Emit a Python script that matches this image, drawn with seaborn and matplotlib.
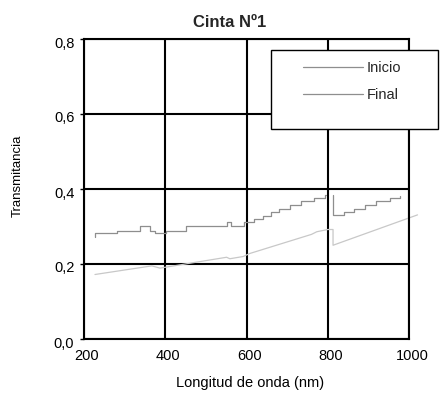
import numpy as np
import pandas as pd
import matplotlib
matplotlib.use("Agg")
import matplotlib.pyplot as plt
import matplotlib.transforms as mtransforms
from matplotlib.patches import Rectangle
import seaborn as sns

# ---- data ----
inicio_x_a = [227, 227, 282, 338, 362, 375, 403, 451, 553, 561, 595, 619, 640, 660, 681, 706, 735, 767, 794, 796]
inicio_y_a = [0.273, 0.282, 0.289, 0.301, 0.289, 0.282, 0.289, 0.301, 0.311, 0.301, 0.311, 0.320, 0.329, 0.338, 0.347, 0.357, 0.368, 0.376, 0.384, 0.384]
inicio_x_b = [813, 813, 840, 865, 892, 919, 952, 977, 978]
inicio_y_b = [0.384, 0.331, 0.339, 0.348, 0.357, 0.367, 0.375, 0.382, 0.382]

final_x = [227, 367, 387, 551, 559, 592, 608, 760, 773, 800, 813, 813, 1021]
final_y = [0.172, 0.195, 0.189, 0.218, 0.214, 0.220, 0.228, 0.279, 0.286, 0.292, 0.292, 0.250, 0.331]

x_ticks = [200, 400, 600, 800, 1000]
x_ticklabels = ["200", "400", "600", "800", "1000"]
y_ticks = [0.0, 0.2, 0.4, 0.6, 0.8]
y_ticklabels = ["0,0", "0,2", "0,4", "0,6", "0,8"]
series_names = ["Inicio", "Final"]

sns.set_theme(style="white")
plt.rcParams["font.family"] = ["Liberation Sans", "DejaVu Sans"]

df_inicio = pd.DataFrame({
    "x": inicio_x_a + inicio_x_b,
    "y": inicio_y_a + inicio_y_b,
    "seg": [0] * len(inicio_x_a) + [1] * len(inicio_x_b),
})
df_final = pd.DataFrame({"x": final_x, "y": final_y})

fig = plt.figure(figsize=(4.43, 4.01), dpi=100)
fig.patch.set_facecolor("white")
ax = fig.add_axes([84 / 443, 1 - 339 / 401, 325 / 443, 300 / 401])

sns.lineplot(data=df_inicio, x="x", y="y", units="seg", estimator=None, sort=False,
             color="#8e8e8e", lw=0.9, drawstyle="steps-post", label=series_names[0],
             ax=ax, legend=False)
sns.lineplot(data=df_final, x="x", y="y", estimator=None, sort=False,
             color="#c8c8c8", lw=0.9, label=series_names[1], ax=ax, legend=False)
for ln in ax.lines:
    ln.set_clip_on(False)

ax.set_xlim(200, 1000)
ax.set_ylim(0, 0.8)
ax.set_xticks(x_ticks)
ax.set_xticklabels(x_ticklabels)
ax.set_yticks(y_ticks)
ax.set_yticklabels(y_ticklabels)
ax.grid(True, color="black", lw=1.5)
ax.set_axisbelow(True)
for sp in ax.spines.values():
    sp.set_visible(True)
    sp.set_color("black")
    sp.set_linewidth(1.5)

ax.tick_params(axis="x", length=0, pad=7, labelsize=10.5, colors="black")
ax.tick_params(axis="y", length=3, width=1, direction="out", left=True, pad=4,
               labelsize=10.5, colors="black")
offy = mtransforms.ScaledTranslation(0, -3 / 100, fig.dpi_scale_trans)
for lab in ax.get_yticklabels():
    lab.set_transform(lab.get_transform() + offy)
offx = mtransforms.ScaledTranslation(3 / 100, 0, fig.dpi_scale_trans)
for lab in ax.get_xticklabels():
    lab.set_transform(lab.get_transform() + offx)

ax.set_xlabel("Longitud de onda (nm)", fontsize=10.5, color="black")
ax.xaxis.set_label_coords((250 - 84) / 325, (339 - 376) / 300)
ax.set_ylabel("Transmitancia", fontsize=9.5, color="black")
ax.yaxis.set_label_coords((24 - 84) / 325, (339 - 176) / 300)
ax.set_title("Cinta Nº1", fontsize=12, fontweight="bold", x=(230 - 84) / 325,
             y=(339 - 27) / 300, pad=0, va="baseline")

# legend box
rect = Rectangle((271 / 443, 1 - 129 / 401), (438 - 271) / 443, (129 - 50) / 401,
                 transform=fig.transFigure, facecolor="white", edgecolor="black",
                 lw=1.0, zorder=3)
fig.add_artist(rect)

handles, labels = ax.get_legend_handles_labels()
uniq = dict(zip(labels, handles))
leg = fig.legend([uniq[n] for n in series_names], series_names,
                 loc="upper left", bbox_to_anchor=(303 / 443, 1 - 61 / 401),
                 frameon=False, fontsize=10.5, handlelength=4.1, handletextpad=0.25,
                 borderpad=0, borderaxespad=0, labelspacing=0.9)
leg.set_zorder(4)
for h in leg.get_lines():
    h.set_color("#8e8e8e")
    h.set_linewidth(0.9)

fig.savefig("out.png", dpi=100, facecolor="white")
